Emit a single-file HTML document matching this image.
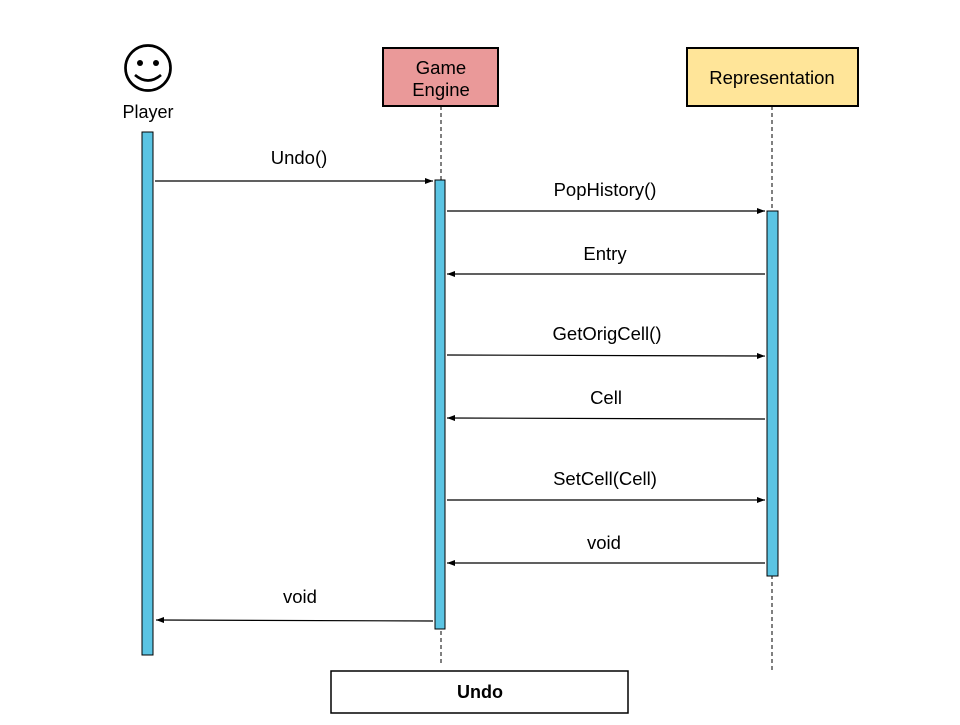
<!DOCTYPE html>
<html><head><meta charset="utf-8"><style>html,body{margin:0;padding:0;background:#fff}</style></head>
<body>
<svg width="960" height="720" xmlns="http://www.w3.org/2000/svg" font-family="Liberation Sans, sans-serif">
<defs><marker id="a" markerWidth="8" markerHeight="6" refX="8" refY="3" orient="auto" markerUnits="userSpaceOnUse"><path d="M0,0 L8,3 L0,6 z" fill="#000"/></marker></defs>
<rect width="960" height="720" fill="#fff"/>
<!-- player -->
<circle cx="148" cy="68" r="22.5" fill="none" stroke="#000" stroke-width="2.7"/>
<circle cx="140" cy="63" r="3"/><circle cx="156" cy="63" r="3"/>
<path d="M135,75 Q148,86 161,75" fill="none" stroke="#000" stroke-width="2.7"/>
<text x="148" y="118" font-size="18" text-anchor="middle">Player</text>
<!-- boxes -->
<rect x="383" y="48" width="115" height="58" fill="#ea9999" stroke="#000" stroke-width="2"/>
<text x="441" y="74" font-size="18.5" text-anchor="middle">Game</text>
<text x="441" y="96" font-size="18.5" text-anchor="middle">Engine</text>
<rect x="687" y="48" width="171" height="58" fill="#ffe599" stroke="#000" stroke-width="2"/>
<text x="772" y="84" font-size="18.5" text-anchor="middle">Representation</text>
<!-- lifelines -->
<line x1="441" y1="106" x2="441" y2="666" stroke="#000" stroke-dasharray="4,3"/>
<line x1="772" y1="106" x2="772" y2="671" stroke="#000" stroke-dasharray="4,3"/>
<!-- bars -->
<rect x="142" y="132" width="11" height="523" fill="#5bc4e3" stroke="#000"/>
<rect x="435" y="180" width="10" height="449" fill="#5bc4e3" stroke="#000"/>
<rect x="767" y="211" width="11" height="365" fill="#5bc4e3" stroke="#000"/>
<!-- arrows -->
<g stroke="#000" stroke-width="1.2" marker-end="url(#a)">
<line x1="155" y1="181" x2="433" y2="181"/>
<line x1="447" y1="211" x2="765" y2="211"/>
<line x1="765" y1="274" x2="447" y2="274"/>
<line x1="447" y1="355" x2="765" y2="356"/>
<line x1="765" y1="419" x2="447" y2="418"/>
<line x1="447" y1="500" x2="765" y2="500"/>
<line x1="765" y1="563" x2="447" y2="563"/>
<line x1="433" y1="621" x2="156" y2="620"/>
</g>
<g font-size="18.5" text-anchor="middle">
<text x="299" y="164">Undo()</text>
<text x="605" y="196">PopHistory()</text>
<text x="605" y="260">Entry</text>
<text x="607" y="340">GetOrigCell()</text>
<text x="606" y="404">Cell</text>
<text x="605" y="485">SetCell(Cell)</text>
<text x="604" y="549">void</text>
<text x="300" y="603">void</text>
</g>
<rect x="331" y="671" width="297" height="42" fill="#fff" stroke="#000" stroke-width="1.5"/>
<text x="480" y="698" font-size="18" font-weight="bold" text-anchor="middle">Undo</text>
</svg>
</body></html>
